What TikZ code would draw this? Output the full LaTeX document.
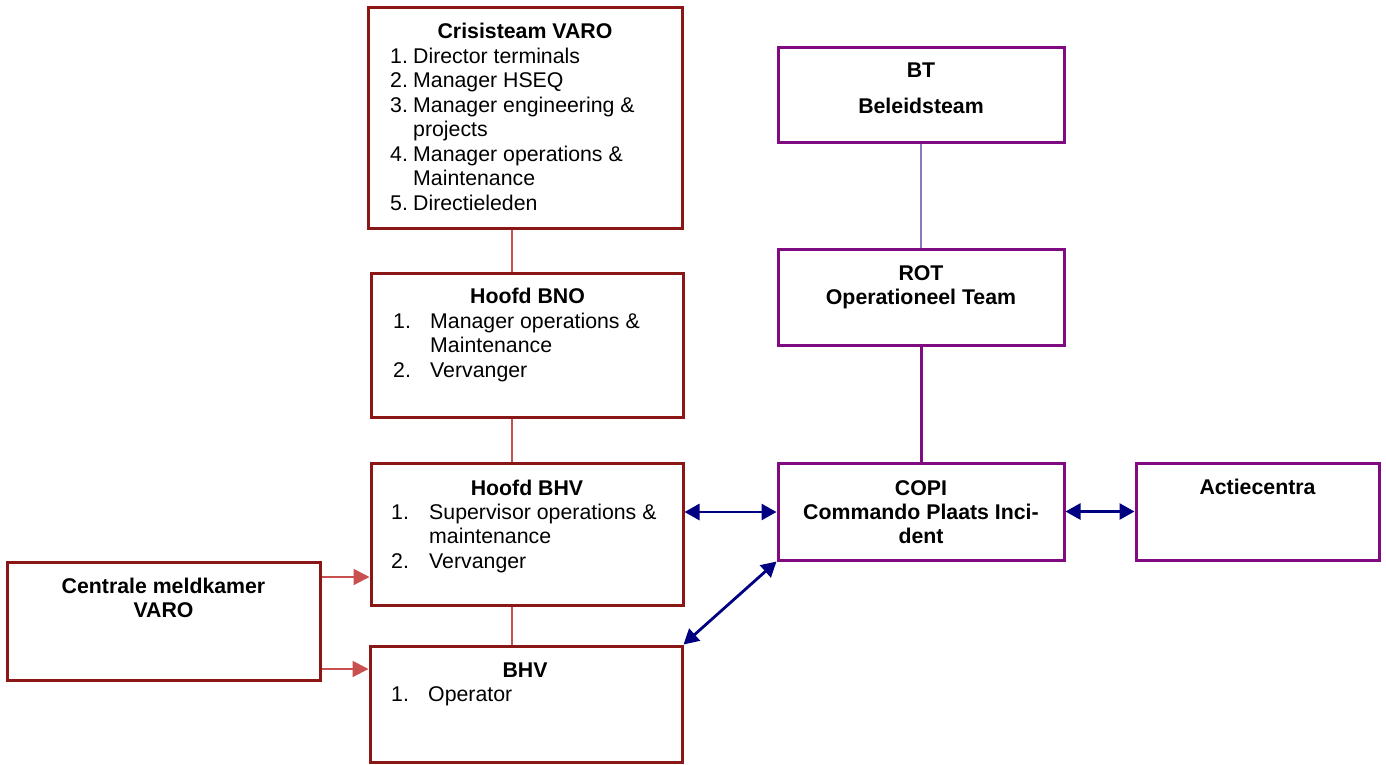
\documentclass[tikz,border=0pt]{standalone}
\usepackage{fontspec}
\setmainfont{Liberation Sans}
\usetikzlibrary{arrows.meta}
\definecolor{dred}{RGB}{139,22,22}
\definecolor{lred}{RGB}{200,80,78}
\definecolor{dpurp}{RGB}{128,10,128}
\definecolor{lpurp}{RGB}{140,120,190}
\definecolor{navy}{RGB}{0,0,128}
\begin{document}
\begin{tikzpicture}[x=1pt,y=-1pt,
  txt/.style={inner sep=0pt,font=\fontsize{21.3}{24.5}\selectfont},
  ttl/.style={txt,font=\fontsize{21.3}{24.5}\selectfont\bfseries,anchor=base},
  lst/.style={txt,anchor=north west,align=left},
  rbox/.style={draw=dred,line width=3pt,fill=white,rectangle,inner sep=0pt},
  pbox/.style={draw=dpurp,line width=3pt,fill=white,rectangle,inner sep=0pt},
  rline/.style={draw=lred,line width=2pt},
  rarrow/.style={draw=lred,line width=2pt,-{Triangle[length=16pt,width=16pt]}},
  barrow/.style={draw=navy,line width=2.8pt,{Triangle[length=15pt,width=16pt]}-{Triangle[length=15pt,width=16pt]}}]
\useasboundingbox (0,0) rectangle (1386,764);
% boxes
\node[rbox,minimum width=314pt,minimum height=221pt] (crisis) at (525,117.5) {};
\node[rbox,minimum width=312pt,minimum height=144pt] (bno) at (527,345) {};
\node[rbox,minimum width=312pt,minimum height=142pt] (hbhv) at (527,534) {};
\node[rbox,minimum width=312pt,minimum height=116pt] (bhv) at (526,704) {};
\node[rbox,minimum width=313pt,minimum height=118pt] (centrale) at (163.5,621) {};
\node[pbox,minimum width=286pt,minimum height=95pt] (bt) at (921,94.5) {};
\node[pbox,minimum width=286pt,minimum height=96pt] (rot) at (921,297) {};
\node[pbox,minimum width=286pt,minimum height=97pt] (copi) at (921,511.5) {};
\node[pbox,minimum width=243pt,minimum height=97pt] (actie) at (1257.5,511.5) {};
% texts
\node[ttl] (crisisT) at (525,38) {Crisisteam VARO};
\node[lst] (crisisL) at (390,47.5) {\makebox[23pt][l]{1.}Director terminals\\
\makebox[23pt][l]{2.}Manager HSEQ\\
\makebox[23pt][l]{3.}Manager engineering \&\\
\hspace*{23pt}projects\\
\makebox[23pt][l]{4.}Manager operations \&\\
\hspace*{23pt}Maintenance\\
\makebox[23pt][l]{5.}Directieleden};
\node[ttl] (bnoT) at (527.5,303) {Hoofd BNO};
\node[lst] (bnoL) at (393,312.5) {\makebox[37pt][l]{1.}Manager operations \&\\
\hspace*{37pt}Maintenance\\
\makebox[37pt][l]{2.}Vervanger};
\node[ttl] (hbhvT) at (527,495) {Hoofd BHV};
\node[lst] (hbhvL) at (391,503.5) {\makebox[38pt][l]{1.}Supervisor operations \&\\
\hspace*{38pt}maintenance\\
\makebox[38pt][l]{2.}Vervanger};
\node[ttl] (bhvT) at (525,677) {BHV};
\node[lst] (bhvL) at (391,686.5) {\makebox[37pt][l]{1.}Operator};
\node[ttl] (centraleT1) at (163.5,593) {Centrale meldkamer};
\node[ttl] (centraleT2) at (163.5,617) {VARO};
\node[ttl] (btT1) at (921,77) {BT};
\node[ttl] (btT2) at (921,113) {Beleidsteam};
\node[ttl] (rotT1) at (921,280) {ROT};
\node[ttl] (rotT2) at (921,304) {Operationeel Team};
\node[ttl] (copiT1) at (921,495) {COPI};
\node[ttl] (copiT2) at (921,519) {Commando Plaats Inci-};
\node[ttl] (copiT3) at (921,543) {dent};
\node[ttl] (actieT) at (1257.5,494) {Actiecentra};
% helper coordinates
\coordinate (colL) at (512,0);
\coordinate (ay1) at (0,577);
\coordinate (ay2) at (0,669);
\coordinate (ay3) at (0,512);
% connectors
\draw[rline] (crisis.south -| colL) -- (bno.north -| colL);
\draw[rline] (bno.south -| colL) -- (hbhv.north -| colL);
\draw[rline] (hbhv.south -| colL) -- (bhv.north -| colL);
\draw[draw=lpurp,line width=2pt] (bt.south) -- (rot.north);
\draw[draw=dpurp,line width=3pt] (rot.south) -- (copi.north);
\draw[rarrow] (centrale.east |- ay1) -- (hbhv.west |- ay1);
\draw[rarrow] (centrale.east |- ay2) -- (bhv.west |- ay2);
\draw[barrow] (hbhv.east |- ay3) -- (copi.west |- ay3);
\draw[barrow] (copi.east) -- (actie.west);
\draw[barrow] (copi.south west) -- (bhv.north east);
\end{tikzpicture}
\end{document}
